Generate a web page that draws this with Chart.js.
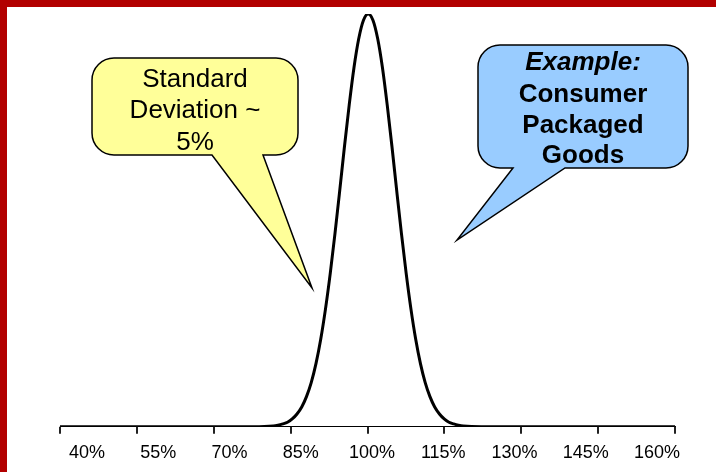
<!DOCTYPE html>
<html>
<head>
<meta charset="utf-8">
<script src="https://cdn.jsdelivr.net/npm/chart.js@4/dist/chart.umd.min.js"></script>
<style>
  html, body { margin: 0; padding: 0; background: #fff; }
  #wrap { position: relative; width: 716px; height: 472px; overflow: hidden; }
  #chart { position: absolute; left: 0; top: 0; }
  .bar { position: absolute; background: #b20000; z-index: 2; }
</style>
</head>
<body>
<div id="wrap">
  <canvas id="chart" width="716" height="472"></canvas>
  <div class="bar" style="left:0;top:0;width:716px;height:7px"></div>
  <div class="bar" style="left:0;top:0;width:7px;height:472px"></div>
</div>
<script>
// x = index level in %, y = relative frequency (peak = 1)
const levels = [34.3, 60, 75, 79.2, 80.2, 81.2, 82.2, 83.2, 84.2, 85.2, 86.2, 87.2, 88.2, 89.2, 90.2,
    91.2, 92.2, 93.2, 94.2, 95.2, 96.2, 97.2, 98.2, 99.2, 100.2, 101.2, 102.2, 103.2, 104.2,
    105.2, 106.2, 107.2, 108.2, 109.2, 110.2, 111.2, 112.2, 113.2, 114.2, 115.2, 116.2, 117.2,
    118.2, 119.2, 123, 140, 163.8];
const frequency = [0, 0, 0, 0.002, 0.004, 0.007, 0.011, 0.019, 0.031, 0.048, 0.073, 0.107, 0.153,
    0.212, 0.285, 0.371, 0.468, 0.572, 0.679, 0.78, 0.87, 0.94, 0.985, 1.0, 0.985, 0.94, 0.87,
    0.78, 0.679, 0.572, 0.468, 0.371, 0.285, 0.212, 0.153, 0.107, 0.073, 0.048, 0.031, 0.019,
    0.011, 0.007, 0.004, 0.002, 0, 0, 0];
const tickLabels = [40, 55, 70, 85, 100, 115, 130, 145, 160];
const axisMin = 34.3;
const axisMax = 163.8;
const tickMarkCount = 9;

const FONT = '"Liberation Sans", Arial, sans-serif';
const callouts = [
    {
        fill: '#ffff99', box: [92, 58, 298, 155], r: 22, base: [212, 263], tip: [312, 288],
        lines: [
            { text: 'Standard', y: 87, font: '26px ' + FONT },
            { text: 'Deviation ~', y: 118, font: '26px ' + FONT },
            { text: '5%', y: 150, font: '26px ' + FONT }
        ]
    },
    {
        fill: '#99ccff', box: [478, 45, 688, 168], r: 22, base: [513, 565], tip: [457, 240],
        lines: [
            { text: 'Example:', y: 70, font: 'italic bold 26px ' + FONT },
            { text: 'Consumer', y: 102, font: 'bold 26px ' + FONT },
            { text: 'Packaged', y: 133, font: 'bold 26px ' + FONT },
            { text: 'Goods', y: 163, font: 'bold 26px ' + FONT }
        ]
    }
];

// tick marks sit on their own spacing, separate from the labels
const tickMarksPlugin = {
    id: 'tickMarks',
    afterDatasetsDraw(chart) {
        const x = chart.scales.x;
        const ctx = chart.ctx;
        const y0 = chart.chartArea.bottom;
        ctx.save();
        ctx.strokeStyle = '#222';
        ctx.lineWidth = 2;
        for (let k = 0; k < tickMarkCount; k++) {
            const v = axisMin + k * (axisMax - axisMin) / (tickMarkCount - 1);
            const px = Math.round(x.getPixelForValue(v));
            ctx.beginPath();
            ctx.moveTo(px, y0);
            ctx.lineTo(px, y0 + 7);
            ctx.stroke();
        }
        ctx.restore();
    }
};

const calloutPlugin = {
    id: 'callouts',
    afterDraw(chart) {
        const ctx = chart.ctx;
        callouts.forEach(c => {
            const [x1, y1, x2, y2] = c.box;
            const r = c.r;
            ctx.save();
            ctx.beginPath();
            ctx.moveTo(x1 + r, y1);
            ctx.lineTo(x2 - r, y1);
            ctx.arcTo(x2, y1, x2, y1 + r, r);
            ctx.lineTo(x2, y2 - r);
            ctx.arcTo(x2, y2, x2 - r, y2, r);
            ctx.lineTo(c.base[1], y2);
            ctx.lineTo(c.tip[0], c.tip[1]);
            ctx.lineTo(c.base[0], y2);
            ctx.lineTo(x1 + r, y2);
            ctx.arcTo(x1, y2, x1, y2 - r, r);
            ctx.lineTo(x1, y1 + r);
            ctx.arcTo(x1, y1, x1 + r, y1, r);
            ctx.closePath();
            ctx.fillStyle = c.fill;
            ctx.fill();
            ctx.strokeStyle = '#000';
            ctx.lineWidth = 1.5;
            ctx.stroke();
            ctx.fillStyle = '#000';
            ctx.textAlign = 'center';
            ctx.textBaseline = 'alphabetic';
            const cx = (x1 + x2) / 2;
            c.lines.forEach(l => {
                ctx.font = l.font;
                ctx.fillText(l.text, cx, l.y);
            });
            ctx.restore();
        });
    }
};

new Chart(document.getElementById('chart'), {
    type: 'line',
    data: {
        datasets: [{
            data: levels.map((v, i) => ({ x: v, y: frequency[i] })),
            borderColor: '#000',
            borderWidth: 3,
            pointRadius: 0,
            fill: false,
            cubicInterpolationMode: 'monotone'
        }]
    },
    options: {
        responsive: false,
        animation: false,
        layout: { padding: { left: 60, right: 41, top: 14, bottom: 8 } },
        plugins: { legend: { display: false }, tooltip: { enabled: false } },
        scales: {
            x: {
                type: 'linear',
                min: axisMin,
                max: axisMax,
                afterBuildTicks: (axis) => {
                    axis.ticks = tickLabels.map(v => ({ value: v }));
                },
                ticks: {
                    autoSkip: false,
                    maxRotation: 0,
                    padding: 0,
                    color: '#000',
                    font: { family: FONT, size: 18 },
                    callback: (v) => v + '%'
                },
                grid: { display: false, drawTicks: true, tickLength: 15.6 },
                border: { display: true, color: '#000', width: 1 }
            },
            y: { display: false, min: 0, max: 1 }
        }
    },
    plugins: [tickMarksPlugin, calloutPlugin]
});
</script>
</body>
</html>
